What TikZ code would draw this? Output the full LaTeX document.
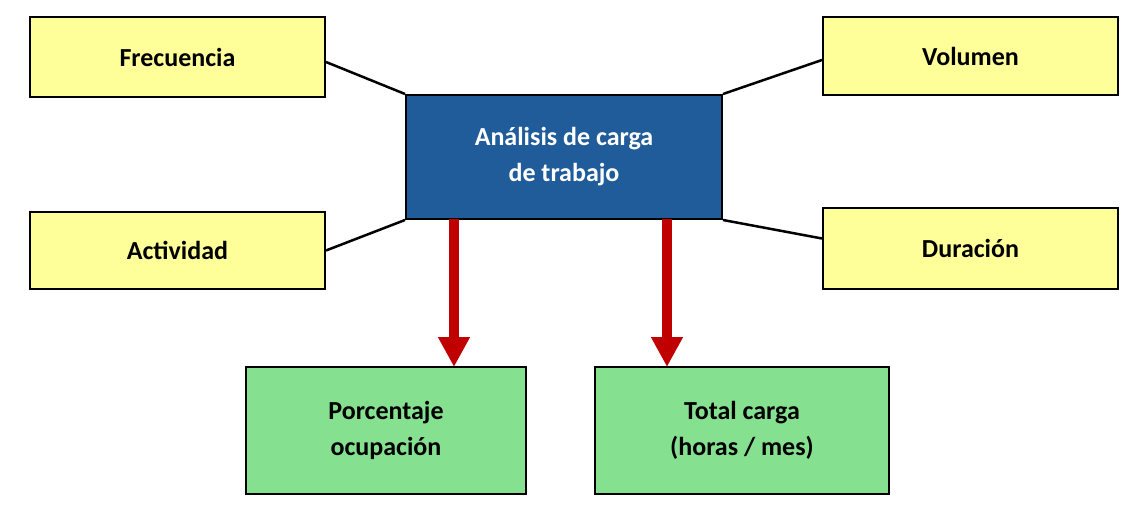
\documentclass[tikz,border=0pt]{standalone}
\usepackage{fontspec}
\setmainfont{Carlito}
\usetikzlibrary{arrows.meta}
\begin{document}
\begin{tikzpicture}[x=1pt,y=-1pt,
 box/.style={draw=black,line width=2pt,font=\bfseries\fontsize{26}{32}\selectfont,align=center,inner sep=0pt},
 yel/.style={box,fill=yellow!30!white,fill={rgb,255:red,255;green,255;blue,153}},
 grn/.style={box,fill={rgb,255:red,133;green,224;blue,144}},
 link/.style={line width=2.5pt},
 redarrow/.style={line width=10pt,draw={rgb,255:red,192;green,0;blue,0},-{Triangle[width=30pt,length=30pt]}}]
\useasboundingbox (0,0) rectangle (1136,516);
\node[yel,minimum width=295pt,minimum height=80pt] (f) at (177.5,57) {Frecuencia};
\node[yel,minimum width=295pt,minimum height=78pt] (v) at (970.5,56) {Volumen};
\node[yel,minimum width=295pt,minimum height=77pt] (a) at (177.5,250.5) {Actividad};
\node[yel,minimum width=295pt,minimum height=81pt] (d) at (970.5,248.5) {Duración};
\node[box,fill={rgb,255:red,31;green,92;blue,153},text=white,minimum width=316pt,minimum height=124pt] (c) at (564,157) {Análisis de carga\\[4pt]de trabajo};
\node[grn,minimum width=280pt,minimum height=127pt] (p) at (386,430.5) {Porcentaje\\[4pt]ocupación};
\node[grn,minimum width=294pt,minimum height=127pt] (t) at (742,430.5) {Total carga\\[4pt](horas / mes)};
\draw[link] ([yshift=-5pt]f.east) -- (c.north west);
\draw[link] ([yshift=-4pt]v.west) -- (c.north east);
\draw[link] (a.east) -- (c.south west);
\draw[link] ([yshift=10pt]d.west) -- (c.south east);
\draw[redarrow] ([xshift=-110pt,yshift=1pt]c.south) -- ([xshift=68pt,yshift=-1pt]p.north);
\draw[redarrow] ([xshift=103pt,yshift=1pt]c.south) -- ([xshift=-75pt,yshift=-1pt]t.north);
\end{tikzpicture}
\end{document}
